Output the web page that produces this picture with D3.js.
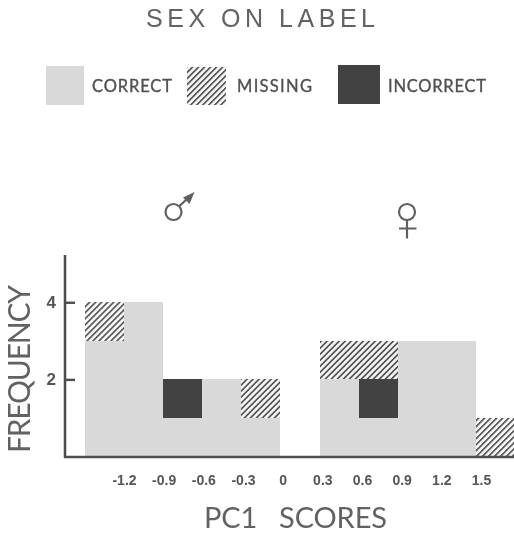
<!DOCTYPE html>
<html>
<head>
<meta charset="utf-8">
<script src="https://cdn.jsdelivr.net/npm/d3@7"></script>
<style>
html,body{margin:0;padding:0;background:#fff}
svg{display:block}
</style>
</head>
<body>
<script>
const binStarts = [-1.5,-1.2,-0.9,-0.6,-0.3,0,0.3,0.6,0.9,1.2,1.5];
const correct   = [3,4,1,2,1,0,2,1,3,3,0];
const incorrect = [0,0,1,0,0,0,0,1,0,0,0];
const missing   = [1,0,0,0,1,0,1,1,0,0,1];
const binWidth = 0.3;
const tickLabels = [-1.2,-0.9,-0.6,-0.3,0,0.3,0.6,0.9,1.2,1.5];
const yTicks = [2,4];
const seriesNames = ["CORRECT","INCORRECT","MISSING"];
const legendOrder = ["CORRECT","MISSING","INCORRECT"];
const titleText = "SEX ON LABEL";
const xTitle = "PC1   SCORES";
const yTitle = "FREQUENCY";

const W = 514, H = 534;
const grey = "#626262", axisCol = "#4e4e4e", lightFill = "#d9d9d9", darkFill = "#434343";

const svg = d3.select("body").append("svg").attr("width",W).attr("height",H)
  .attr("viewBox",[0,0,W,H]);
const defs = svg.append("defs");
defs.append("filter").attr("id","soft").attr("x","-2%").attr("y","-2%").attr("width","104%").attr("height","104%")
  .append("feGaussianBlur").attr("stdDeviation",0.5);
const period = 4.25;
const pat = defs.append("pattern").attr("id","hatch").attr("patternUnits","userSpaceOnUse")
  .attr("width",period).attr("height",period).attr("patternTransform","rotate(45)");
pat.append("rect").attr("width",period).attr("height",period).attr("fill","#f6f6f6");
pat.append("rect").attr("width",1.6).attr("height",period).attr("fill","#4f4f4f");

const fillFor = {CORRECT:lightFill, MISSING:"url(#hatch)", INCORRECT:darkFill};
const root = svg.append("g").attr("filter","url(#soft)");

const x = d3.scaleLinear().domain([-1.5,1.8]).range([85,515]);
const tickPos = d3.scaleLinear().domain([-1.2,1.5]).range([124,481]);
const y = d3.scaleLinear().domain([0,5.2]).range([456.5,256]);

const rows = binStarts.map((b,i)=>({b,CORRECT:correct[i],INCORRECT:incorrect[i],MISSING:missing[i]}));
const stacked = d3.stack().keys(seriesNames)(rows);

root.append("g").selectAll("g").data(stacked).join("g")
  .attr("fill",d=>fillFor[d.key])
  .selectAll("rect").data(d=>d.filter(s=>s[1]>s[0])).join("rect")
  .attr("x",d=>Math.round(x(d.data.b)))
  .attr("width",d=>Math.round(x(d.data.b+binWidth))-Math.round(x(d.data.b)))
  .attr("y",d=>Math.round(y(d[1])))
  .attr("height",d=>Math.round(y(d[0]))-Math.round(y(d[1])));

// axes
const yAxis = d3.axisLeft(y).tickValues(yTicks).tickFormat(d3.format("d")).tickSize(-10).tickPadding(9);
const gy = root.append("g").attr("transform","translate(65,0)").call(yAxis);
gy.select(".domain").attr("d",`M0,${y.range()[1]-1}V${y.range()[0]+1}`).attr("stroke",axisCol).attr("stroke-width",2.6);
gy.selectAll(".tick line").attr("stroke",axisCol).attr("stroke-width",2.4);
gy.selectAll("text").attr("fill","#555").attr("font-family","Liberation Sans").attr("font-weight","bold").attr("font-size",17);

root.append("line").attr("x1",64).attr("x2",W).attr("y1",y(0)+0.5).attr("y2",y(0)+0.5)
  .attr("stroke",axisCol).attr("stroke-width",2.6);

const xAxis = d3.axisBottom(tickPos).tickValues(tickLabels).tickFormat(d=>d===0?"0":String(d)).tickSize(0).tickPadding(0);
const gx = root.append("g").attr("transform","translate(0,475.5)").call(xAxis);
gx.select(".domain").remove();
gx.selectAll("text").attr("fill","#555").attr("font-family","Liberation Sans").attr("font-weight","bold").attr("font-size",14);

// titles
root.append("text").attr("x",146).attr("y",26.5).text(titleText)
  .attr("font-family","Liberation Sans").attr("font-size",25).attr("fill",grey)
  .attr("textLength",229).attr("lengthAdjust","spacing").style("white-space","pre");
root.append("text").attr("x",204).attr("y",528).text(xTitle)
  .attr("font-family","Lato").attr("font-size",29).attr("fill",grey)
  .attr("textLength",183).attr("lengthAdjust","spacing").style("white-space","pre");
root.append("text").attr("transform","translate(30,453) rotate(-90)").text(yTitle)
  .attr("font-family","Lato").attr("font-size",30).attr("fill",grey)
  .attr("textLength",168).attr("lengthAdjust","spacing");

// legend
const legendBox = {CORRECT:[46,66,38,39],MISSING:[187,67,39,38],INCORRECT:[338,65,42,39]};
const legendText = {CORRECT:[92,80],MISSING:[237,75],INCORRECT:[388,98]};
const lg = root.append("g").selectAll("g").data(legendOrder).join("g");
lg.append("rect")
  .attr("x",d=>legendBox[d][0]).attr("y",d=>legendBox[d][1])
  .attr("width",d=>legendBox[d][2]).attr("height",d=>legendBox[d][3])
  .attr("fill",d=>fillFor[d]);
lg.append("text").text(d=>d)
  .attr("x",d=>legendText[d][0]).attr("y",91.5)
  .attr("textLength",d=>legendText[d][1]).attr("lengthAdjust","spacing")
  .attr("font-family","Lato").attr("font-size",16.5).attr("fill","#505050")
  .attr("stroke","#505050").attr("stroke-width",0.35);

// sex symbols
const sym = root.append("g").attr("fill","none").attr("stroke","#606060").attr("stroke-width",2.2);
sym.append("circle").attr("cx",173.5).attr("cy",212).attr("r",8);
sym.append("path").attr("d","M179.5,206L188,198");
sym.append("path").attr("d","M194.5,192L183,197.5L189.5,204Z").attr("fill","#606060").attr("stroke","none");
sym.append("circle").attr("cx",407).attr("cy",212).attr("r",8);
sym.append("path").attr("d","M407,220V238.5M399,228.5H416.5");
</script>
</body>
</html>
